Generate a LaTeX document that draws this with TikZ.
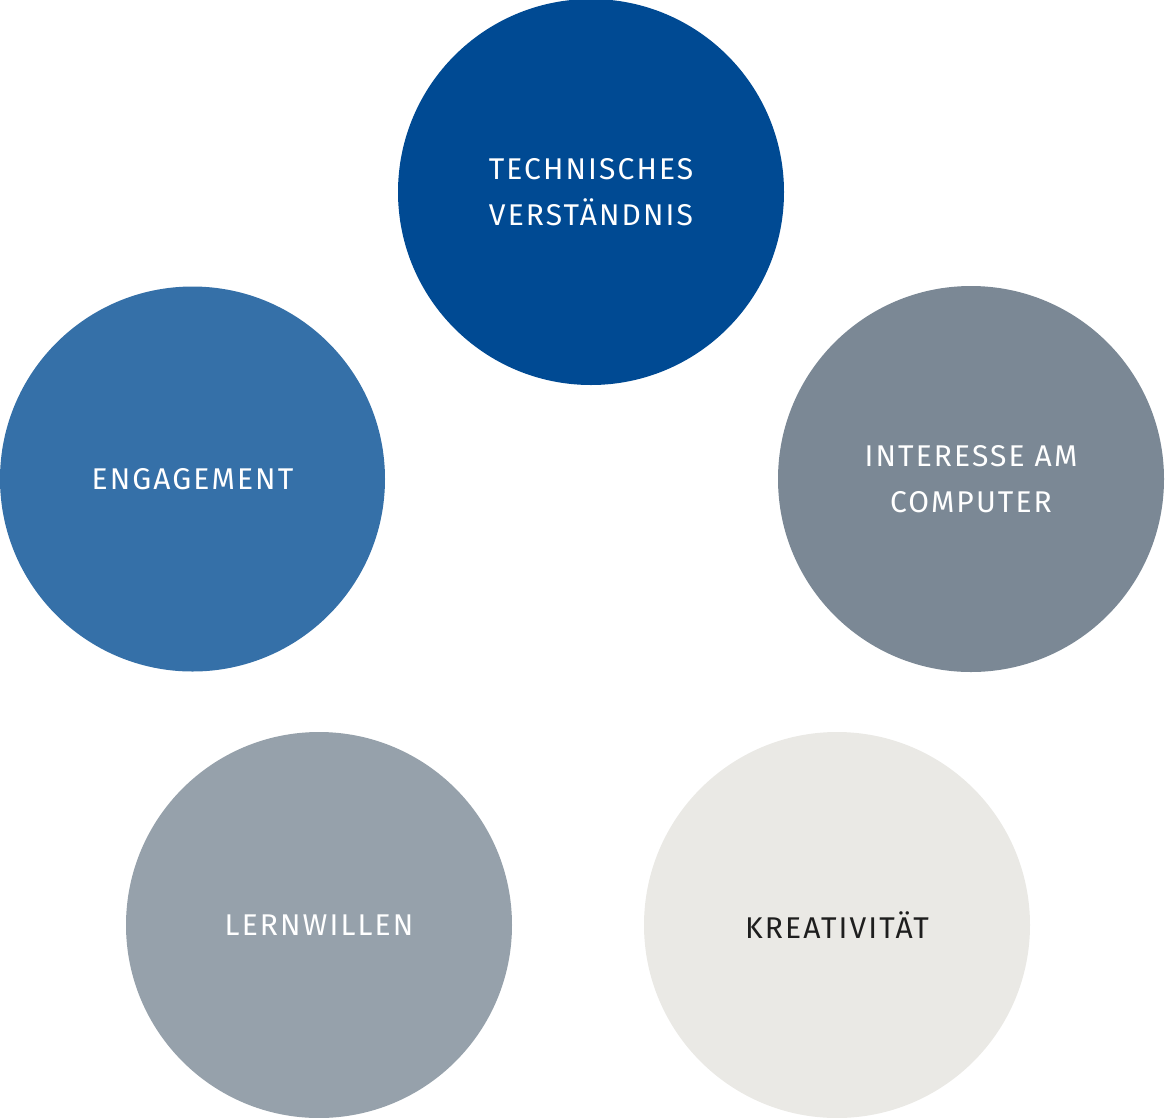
\documentclass[tikz,border=0pt]{standalone}
\usepackage{fontspec}
\setmainfont[LetterSpace=7]{Fira Sans}
\usepackage{tikz}

\definecolor{tiefblau}{HTML}{004A93}
\definecolor{mittelblau}{HTML}{3570A8}
\definecolor{schiefer}{HTML}{7B8895}
\definecolor{graublau}{HTML}{96A1AB}
\definecolor{hellgrau}{HTML}{EAE9E5}
\definecolor{schrift}{HTML}{1E1E1E}

\begin{document}
\begin{tikzpicture}[x=1pt,y=-1pt,
  kreis/.style={circle,minimum size=386pt,inner sep=0pt,align=center,
    text=white,font=\fontsize{30}{46}\selectfont}]
\useasboundingbox (0,0) rectangle (1170,1117);
\node[kreis,fill=tiefblau] (technik) at (591,192) {TECHNISCHES\\VERSTÄNDNIS};
\node[kreis,fill=mittelblau,minimum size=385pt] (engagement) at (192.5,479) {ENGAGEMENT};
\node[kreis,fill=schiefer] (interesse) at (971,479) {INTERESSE AM\\COMPUTER};
\node[kreis,fill=graublau] (lernwille) at (319,925) {LERNWILLEN};
\node[kreis,fill=hellgrau,text=schrift] (kreativ) at (837,925) {KREATIVITÄT};
\end{tikzpicture}
\end{document}
